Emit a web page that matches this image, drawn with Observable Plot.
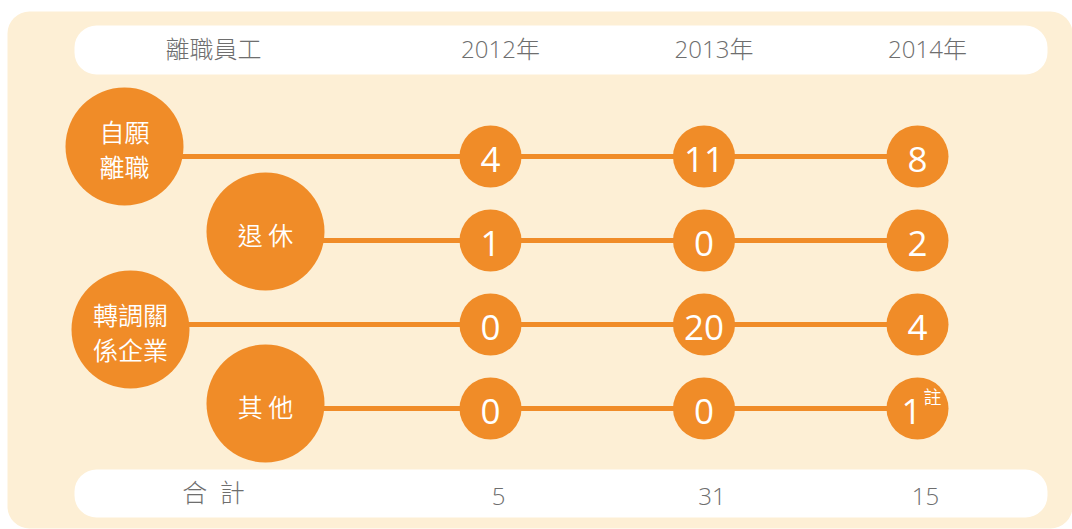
<!DOCTYPE html>
<html>
<head>
<meta charset="utf-8">
<script src="https://cdn.jsdelivr.net/npm/d3@7"></script>
<script src="https://cdn.jsdelivr.net/npm/@observablehq/plot@0.6"></script>
<style>
  html, body { margin: 0; padding: 0; background: #ffffff; }
  svg { display: block; }
</style>
</head>
<body>
<div id="chart"></div>
<script>
// ---- data ----
const headerTitle = "離職員工";
const totalTitle = "合\u2002計";
const years = [2012, 2013, 2014];
const categories = ["自願離職", "退休", "轉調關係企業", "其他"];
const categoryLabels = ["自願\n離職", "退 休", "轉調關\n係企業", "其 他"];
const valuesVoluntary = [4, 11, 8];
const valuesRetired = [1, 0, 2];
const valuesTransfer = [0, 20, 4];
const valuesOther = [0, 0, 1];
const totals = [5, 31, 15];
const notes = [{category: "其他", year: 2014, note: "註"}];

// ---- table built from arrays ----
const seriesValues = [valuesVoluntary, valuesRetired, valuesTransfer, valuesOther];
const cells = categories.flatMap((c, i) =>
  years.map((y, j) => ({category: c, year: y, value: seriesValues[i][j],
    hasNote: notes.some(n => n.category === c && n.year === y)})));

// ---- styles / layout ----
const orange = "#f08c28";
const panel = "#fdefd5";
const grey = "#6e6e6e";
const cjkLight = "'Noto Sans CJK TC Light', 'Noto Sans CJK TC DemiLight', 'Noto Sans CJK TC', sans-serif";
const cjkDemi = "'Noto Sans CJK TC DemiLight', 'Noto Sans CJK TC', sans-serif";
const num = "'Open Sans', 'Noto Sans CJK TC', sans-serif";
const labelNudge = [{dx: -366, dy: -10}, {dx: -225, dy: -9}, {dx: -360, dy: 5}, {dx: -225, dy: -5}];

const labelMarks = categories.flatMap((c, i) => [
  Plot.ruleY([c], {y: d => d, x1: 2012, x2: 2014, insetLeft: labelNudge[i].dx, stroke: orange, strokeWidth: 5}),
  Plot.dot([c], {x: 2012, y: d => d, r: 59, fill: orange, stroke: null, dx: labelNudge[i].dx, dy: labelNudge[i].dy}),
  Plot.text([categoryLabels[i]], {x: 2012, y: () => c, text: d => d, dx: labelNudge[i].dx, dy: labelNudge[i].dy + 2,
    fill: "white", fontSize: 25, fontWeight: 350, fontFamily: cjkDemi, lineHeight: 1.38})
]);

const chart = Plot.plot({
  width: 1072,
  height: 529,
  margin: 0,
  style: {background: "transparent", overflow: "visible"},
  x: {domain: [2012, 2014], range: [490, 917], axis: null},
  y: {type: "point", domain: categories, range: [155, 408], padding: 0, axis: null},
  marks: [
    // background panel
    Plot.frame({fill: panel, stroke: null, rx: 22, insetLeft: 7, insetTop: 11, insetBottom: 1}),
    // header and total pills
    Plot.frame({fill: "white", stroke: null, rx: 22, insetLeft: 74, insetRight: 25, insetTop: 25, insetBottom: 455}),
    Plot.frame({fill: "white", stroke: null, rx: 22, insetLeft: 74, insetRight: 25, insetTop: 469, insetBottom: 12}),
    // header texts
    Plot.text([headerTitle], {x: 2012, frameAnchor: "top", lineAnchor: "middle", dy: 50, dx: -277, text: d => d,
      fill: grey, fontSize: 24, fontWeight: 300, fontFamily: cjkLight}),
    Plot.text(years, {x: d => d, frameAnchor: "top", lineAnchor: "middle", dy: 50, dx: 10, text: d => `${d}年`,
      fill: grey, fontSize: 24, fontWeight: 300, fontFamily: num}),
    // rows
    ...labelMarks,
    Plot.dot(cells, {x: "year", y: "category", r: 31, fill: orange, stroke: null}),
    Plot.text(cells, {x: "year", y: "category", text: d => String(d.value),
      filter: d => !d.hasNote, fill: "white", fontSize: 35, fontWeight: 500, fontFamily: num, dy: 4}),
    Plot.text(cells, {x: "year", y: "category", text: d => String(d.value),
      filter: d => d.hasNote, fill: "white", fontSize: 35, fontWeight: 500, fontFamily: num, dy: 4, dx: -6}),
    Plot.text(notes, {x: "year", y: "category", text: d => d.note, fill: "white", fontSize: 18,
      fontFamily: cjkDemi, dx: 15, dy: -10}),
    // totals row
    Plot.text([totalTitle], {x: 2012, frameAnchor: "bottom", lineAnchor: "middle", dy: -36, dx: -277, text: d => d,
      fill: grey, fontSize: 25, fontWeight: 300, fontFamily: cjkLight}),
    Plot.text(totals, {x: (d, i) => years[i], frameAnchor: "bottom", lineAnchor: "middle", dy: -32, dx: 8, text: d => String(d),
      fill: grey, fontSize: 24, fontWeight: 300, fontFamily: num})
  ]
});
document.getElementById("chart").appendChild(chart);
</script>
</body>
</html>
